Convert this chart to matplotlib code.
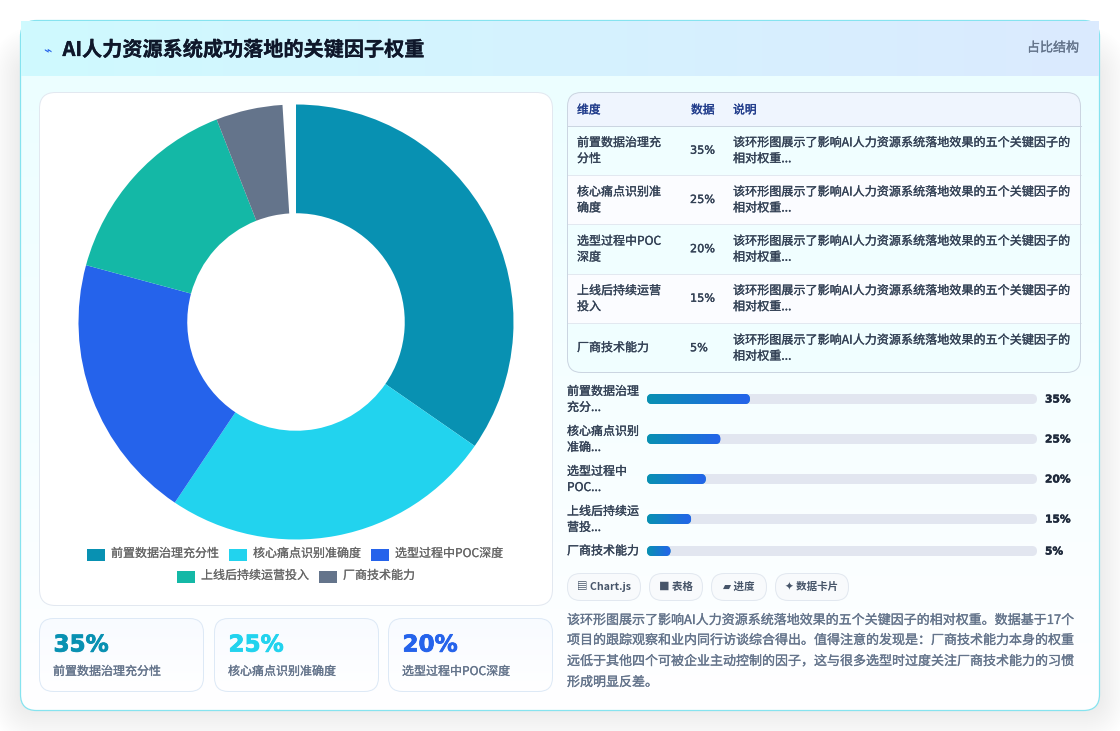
import numpy as np
import matplotlib
matplotlib.use("Agg")
import matplotlib.pyplot as plt
import matplotlib.patheffects as pe
from matplotlib.patches import FancyBboxPatch, Rectangle
from matplotlib.colors import LinearSegmentedColormap

plt.rcParams['font.family'] = ['Noto Sans CJK SC', 'DejaVu Sans']

title = "AI人力资源系统成功落地的关键因子权重"
tag = "占比结构"
categories = ["前置数据治理充分性", "核心痛点识别准确度", "选型过程中POC深度", "上线后持续运营投入", "厂商技术能力"]
values = [35, 25, 20, 15, 5]
gap_value = [1]
colors = ["#0891b2", "#22d3ee", "#2563eb", "#14b8a6", "#64748b"]
table_names = [["前置数据治理充", "分性"], ["核心痛点识别准", "确度"], ["选型过程中POC", "深度"], ["上线后持续运营", "投入"], ["厂商技术能力"]]
table_note = ["该环形图展示了影响AI人力资源系统落地效果的五个关键因子的", "相对权重..."]
bar_names = [["前置数据治理", "充分..."], ["核心痛点识别", "准确..."], ["选型过程中", "POC..."], ["上线后持续运", "营投..."], ["厂商技术能力"]]
chips = ["▤ Chart.js", "■ 表格", "▰ 进度", "✦ 数据卡片"]
paragraph = ["该环形图展示了影响AI人力资源系统落地效果的五个关键因子的相对权重。数据基于17个",
             "项目的跟踪观察和业内同行访谈综合得出。值得注意的发现是：厂商技术能力本身的权重",
             "远低于其他四个可被企业主动控制的因子，这与很多选型时过度关注厂商技术能力的习惯",
             "形成明显反差。"]

W, H = 1120, 731
fig = plt.figure(figsize=(W / 100, H / 100), dpi=100, facecolor="white")
bg = fig.add_axes([0, 0, 1, 1])
bg.set_xlim(0, W); bg.set_ylim(H, 0); bg.axis("off")
HAIR = 0.72


def box(x, y, w, h, r, fc="white", ec="none", lw=HAIR, z=2, alpha=None):
    p = FancyBboxPatch((x + r, y + r), w - 2 * r, h - 2 * r, boxstyle=f"round,pad={r},rounding_size={r}",
                       fc=fc, ec=ec, lw=lw, zorder=z, alpha=alpha)
    bg.add_patch(p)
    return p


def grad(x, y, w, h, c0, c1, clip=None, z=3, direction="h", ax=bg):
    cm = LinearSegmentedColormap.from_list("g", [c0, c1])
    d = np.linspace(0, 1, 256)
    d = d.reshape(1, -1) if direction == "h" else d.reshape(-1, 1)
    im = ax.imshow(d, extent=(x, x + w, y + h, y), cmap=cm, aspect="auto", zorder=z, vmin=0, vmax=1)
    if clip is not None:
        im.set_clip_path(clip)
    return im


def txt(x, y, s, size=8.7, color="#334155", weight="normal", ha="left", va="center", z=8, stroke=0.2, **kw):
    t = bg.text(x, y, s, fontsize=size, color=color, fontweight=weight, ha=ha, va=va, zorder=z, **kw)
    if stroke:
        t.set_path_effects([pe.withStroke(linewidth=stroke, foreground=color)])
    return t


# soft shadow under the card
for i in range(36, 0, -2):
    box(20 - i * 0.8, 62 - i, 1080 + 1.6 * i, 648 + 2 * i, 16 + i, fc="#0f172a", z=1, alpha=0.0026)

# card
card = box(20.5, 20.5, 1079, 690, 16, fc="white", z=2)
grad(20, 76, 1080, 634, "#ecfeff", "#ffffff", clip=card, z=2.2, direction="v")
box(20.5, 20.5, 1079, 690, 16, fc="none", ec="#86e3ef", lw=0.9, z=2.6)
grad(21, 21.2, 1078, 55, "#cffafe", "#dbeafe", z=3)

bg.text(47, 50, "⌁", fontsize=10, color="#2563eb", ha="center", va="center", zorder=8, family=["DejaVu Sans"])
txt(62.5, 49.5, title, size=14.5, color="#0f172a", weight="bold", stroke=0.2)
txt(1079, 48, tag, size=9.36, color="#64748b", ha="right")

# chart panel
box(39.5, 92.5, 513, 513, 16, fc="white", ec="#e2e8f0", z=4)
px, py, R = 296, 322, 217.5
ax = fig.add_axes([(px - R) / W, 1 - (py + R) / H, 2 * R / W, 2 * R / H], zorder=5)
ax.pie(values + gap_value, colors=colors + ["none"], radius=1, startangle=90, counterclock=False,
       wedgeprops=dict(width=0.5, linewidth=0))
ax.set_xlim(-1, 1); ax.set_ylim(-1, 1); ax.axis("off")

# legend
leg_rows = [(555, [0, 1, 2], [87, 229, 371]), (577, [3, 4], [177, 319])]
for y, idx, xs in leg_rows:
    for i, x in zip(idx, xs):
        bg.add_patch(Rectangle((x, y - 6), 18, 12, fc=colors[i], ec="none", zorder=8))
        txt(x + 24, y - 1.5, categories[i], size=8.64, color="#666666", stroke=0.12)

# stat cards
for x, i in zip([39.5, 214.5, 388.5], range(3)):
    c = box(x, 618.5, 164, 73, 14, fc="white", z=4)
    grad(x, 618, 164, 74, "#f8fbff", "#ffffff", clip=c, z=4.2, direction="v")
    box(x, 618.5, 164, 73, 14, fc="none", ec="#dde9f6", z=4.4)
    t = txt(x + 14, 645, f"{values[i]}%", size=16.6, color=colors[i], stroke=0.6, family=["DejaVu Sans"])
    t.set_fontweight("bold")
    txt(x + 13.5, 671.5, categories[i], size=8.64, color="#64748b")

# table
tx, ty, tw, th = 567.5, 92.5, 513, 280
tc = box(tx, ty, tw, th, 14, fc="#f8fdff", z=4)
bg.add_patch(Rectangle((tx, ty), tw, 33, fc="#eff5fe", ec="none", zorder=4.2)).set_clip_path(tc)
row_y = [125.5, 175, 224, 273.5, 323, 372.5]
for k in range(5):
    col = "#f0feff" if k % 2 == 0 else "#fbfcff"
    bg.add_patch(Rectangle((tx, row_y[k]), tw, row_y[k + 1] - row_y[k], fc=col, ec="none", zorder=4.2)).set_clip_path(tc)
    if k > 0:
        bg.plot([tx, tx + tw], [row_y[k], row_y[k]], color="#e2e8f0", lw=HAIR, zorder=4.5)
bg.plot([tx, tx + tw], [125.5, 125.5], color="#cbd5e1", lw=HAIR, zorder=4.5)
box(tx, ty, tw, th, 14, fc="none", ec="#cbd5e1", z=4.6)
for x, s in zip([577, 691, 733], ["维度", "数据", "说明"]):
    txt(x, 110, s, color="#1e3a8a", size=8.5)
for k in range(5):
    mid = (row_y[k] + row_y[k + 1]) / 2
    nm = table_names[k]
    if len(nm) == 2:
        txt(577, mid - 7.5, nm[0], size=8.64)
        txt(577, mid + 8.5, nm[1], size=8.64)
    else:
        txt(577, mid, nm[0], size=8.64)
    txt(690, mid + 0.5, f"{values[k]}%", size=8.1, stroke=0.25, family=["DejaVu Sans"])
    txt(733, mid - 7.5, table_note[0])
    txt(733, mid + 8.5, table_note[1])

# progress bars: the x axis runs 2.94 px per percentage point, with a minimum fill of 8 points
bar_y = [399, 439, 479, 519, 551]
bar_x0, bar_w, bar_h = 647, 390, 10
min_fill = 8
bax = fig.add_axes([bar_x0 / W, 0, bar_w / W, 1], zorder=6)
bax.patch.set_alpha(0)
bax.axis("off")
for y in bar_y:
    box(bar_x0, y - bar_h / 2, bar_w, bar_h, 5, fc="#e2e6f0", z=4)
bars = bax.barh(bar_y, [max(v, min_fill) for v in values], height=bar_h, color=colors[0], linewidth=0)
for k, (y, b) in enumerate(zip(bar_y, bars)):
    w = b.get_width() * 2.94
    rp = FancyBboxPatch((bar_x0 + 5, y), w - 10, 0, boxstyle="round,pad=5,rounding_size=5",
                        transform=bg.transData)
    b.set_clip_path(rp)
    grad(b.get_x(), y - bar_h / 2, b.get_width(), bar_h, "#0891b2", "#2563eb", clip=rp, z=5, ax=bax)
    nm = bar_names[k]
    if len(nm) == 2:
        txt(567, y - 7.5, nm[0], size=8.64)
        txt(567, y + 8.5, nm[1], size=8.64)
    else:
        txt(567, y, nm[0], size=8.64)
    t = txt(1045, y + 0.5, f"{values[k]}%", size=7.7, color="#1e293b", stroke=0.3, family=["DejaVu Sans"])
    t.set_fontweight("bold")
bax.set_xlim(0, bar_w / 2.94)
bax.set_ylim(H, 0)

# chips
for (x, w), s in zip([(567.5, 73), (649.5, 53), (711.5, 55), (775.5, 73)], chips):
    box(x, 573.5, w, 27, 13, fc="#f8fafc", ec="#e2e8f0", z=4)
    bg.text(x + w / 2, 586.5, s, fontsize=7.6, color="#475569", fontweight="bold", ha="center", va="center",
            zorder=8, family=['Noto Sans CJK SC', 'DejaVu Sans'])

# paragraph
for y, s in zip([620.5, 640.5, 661.5, 682.5], paragraph):
    txt(567, y, s, size=9.36, color="#64748b")

fig.savefig("out.png", dpi=100, facecolor="white")
